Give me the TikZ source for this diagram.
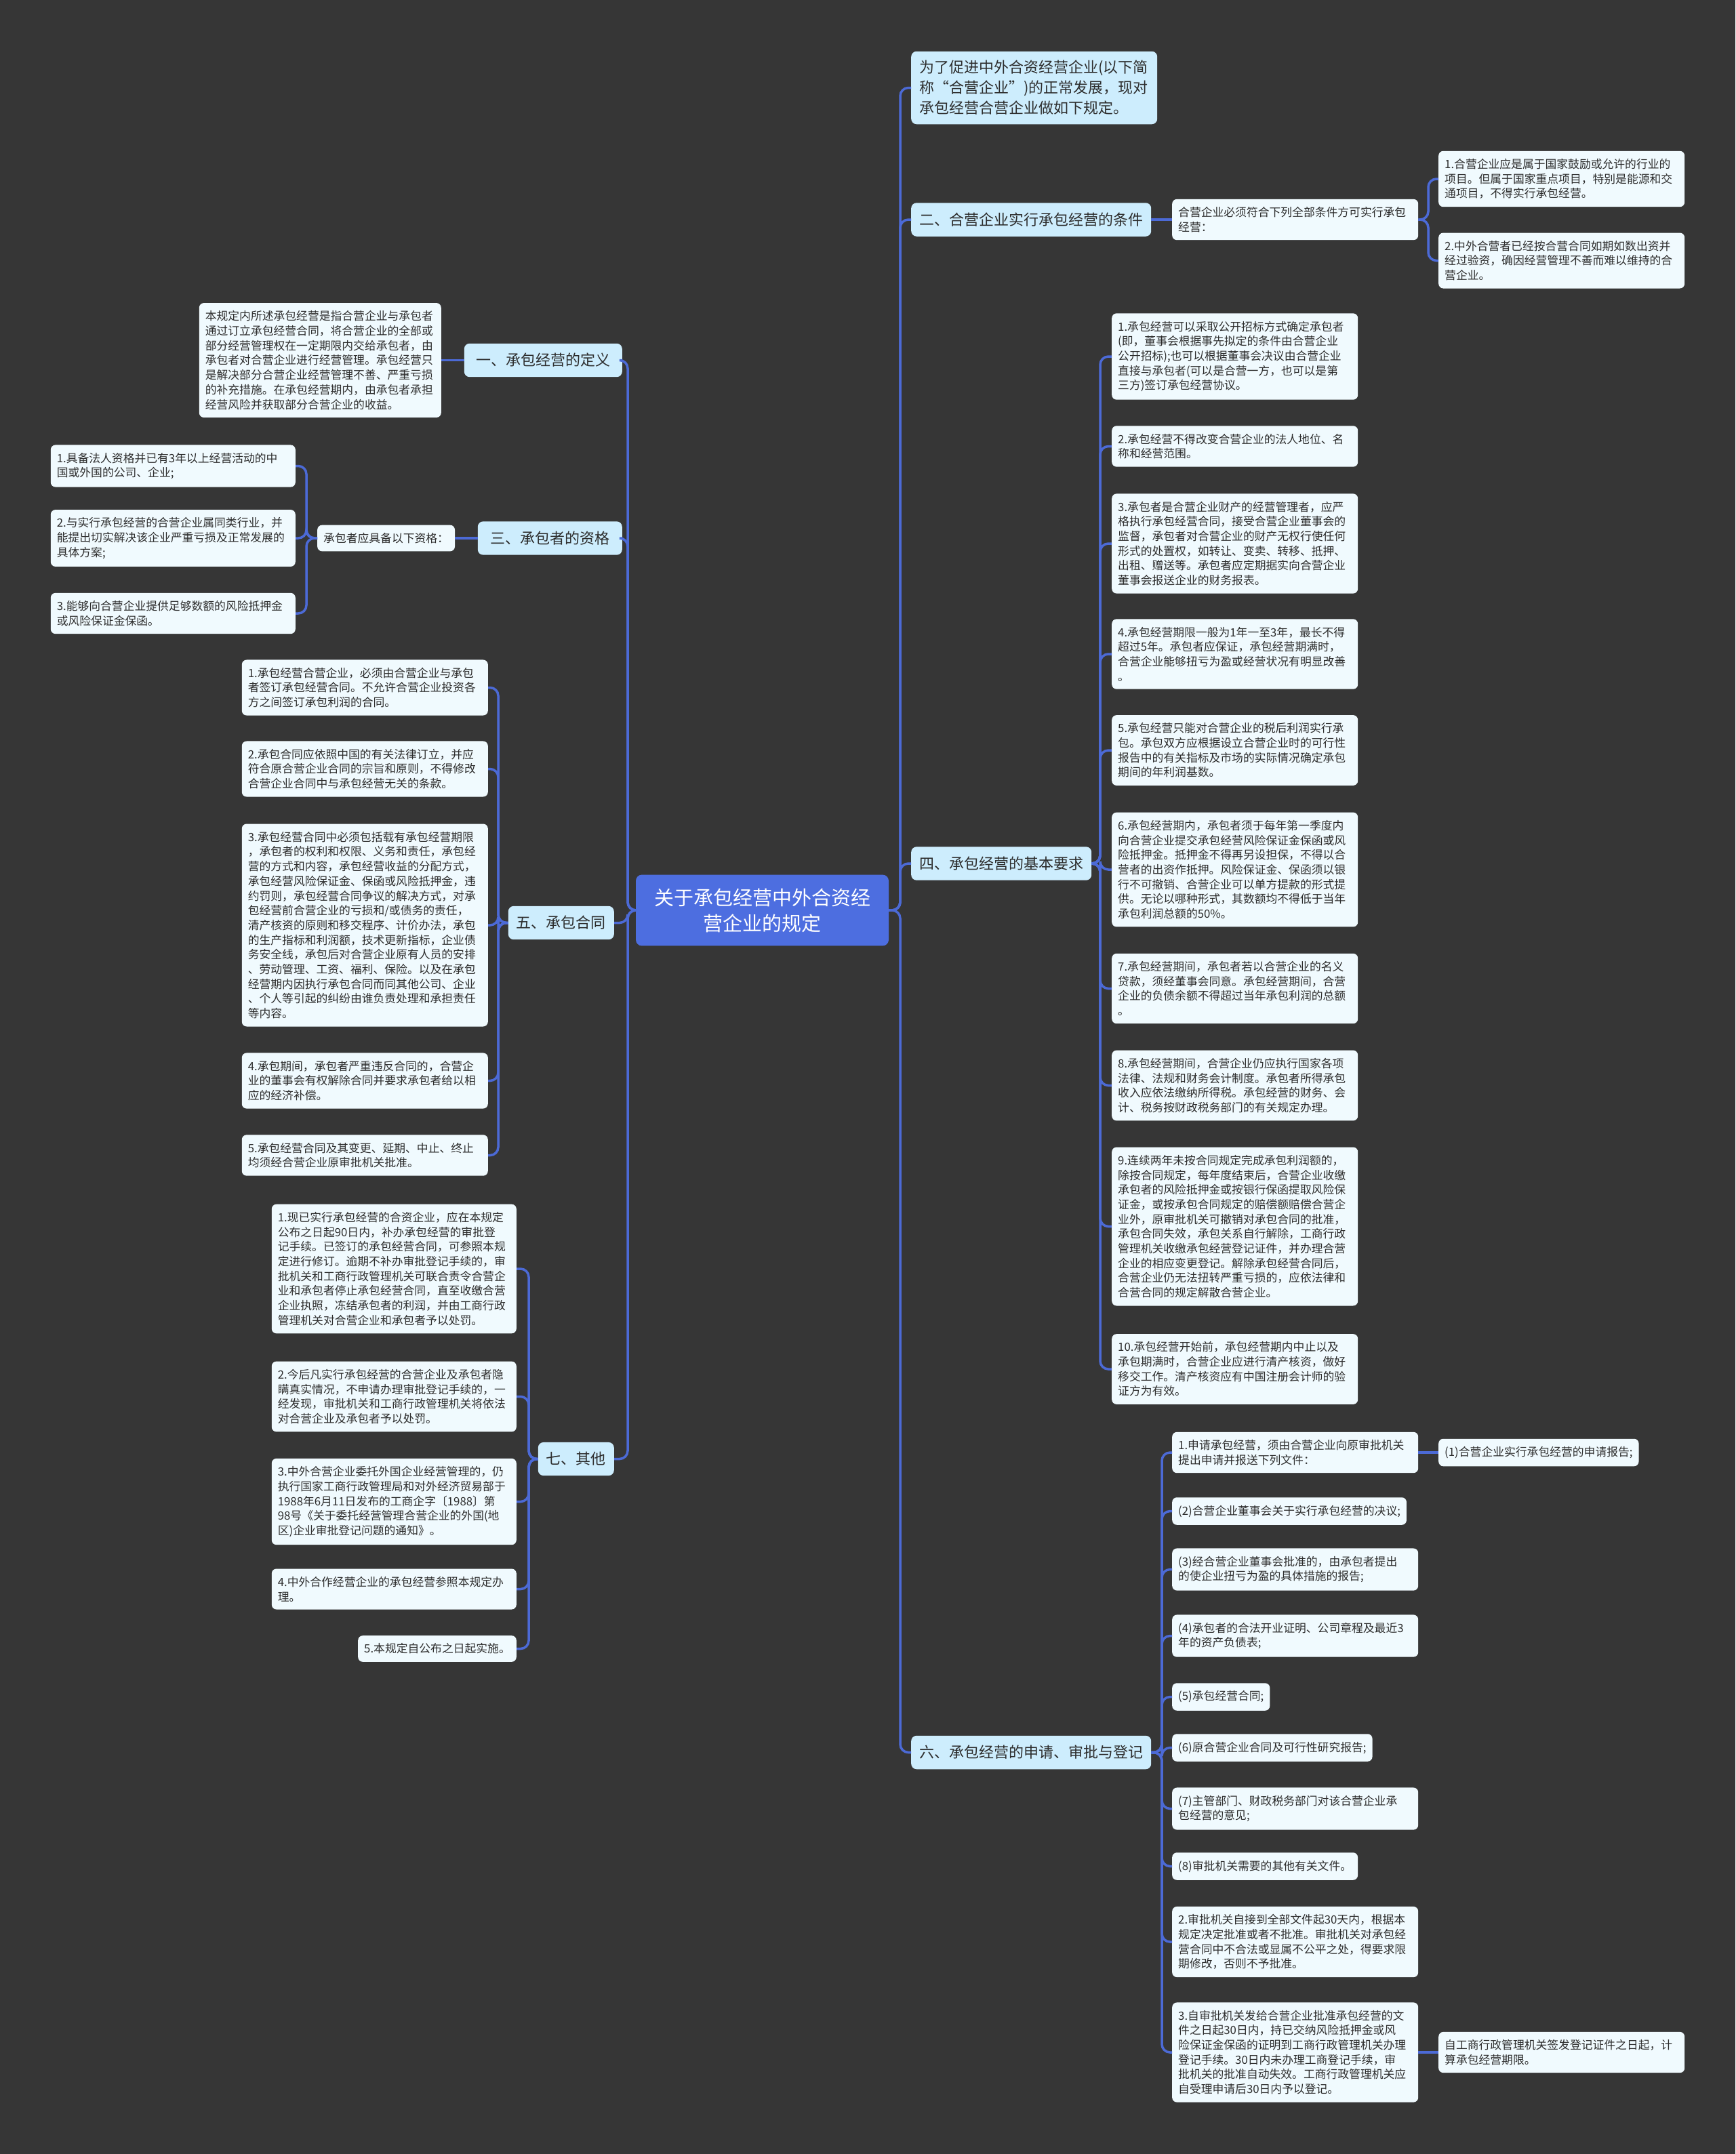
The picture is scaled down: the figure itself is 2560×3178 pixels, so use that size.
\documentclass[tikz,border=0pt]{standalone}
\usepackage{fontspec}
\setmainfont{Noto Sans CJK SC}
\definecolor{bgc}{RGB}{54,54,54}
\definecolor{linec}{RGB}{76,106,214}
\definecolor{lvc}{RGB}{205,237,253}
\definecolor{leafc}{RGB}{240,250,254}
\definecolor{rootc}{RGB}{77,110,224}
\definecolor{txtc}{RGB}{45,45,45}
\tikzset{
  leafbox/.style={fill=leafc, text=txtc, rounded corners=7pt, font=\fontsize{16.8}{21.7}\selectfont, align=left, inner xsep=9pt, inner ysep=11.5pt},
  leafw/.style={leafbox, text width=#1},
  lvone/.style={fill=lvc, text=txtc, rounded corners=8pt, font=\fontsize{22}{30}\selectfont, align=left, inner xsep=12pt, inner ysep=14.5pt},
  rootbox/.style={fill=rootc, text=white, rounded corners=9pt, font=\fontsize{29}{38}\selectfont, align=center, text width=337pt, inner xsep=18pt, inner ysep=20pt},
  conn/.style={draw=linec, line width=3.5pt, rounded corners=12pt},
}
\begin{document}
\begin{tikzpicture}[x=1pt,y=-1pt]
\fill[bgc] (0,0) rectangle (2560,3178);
\useasboundingbox (0,0) rectangle (2560,3178);

% root
\node[rootbox] (root) at (1124.5,1343) {关于承包经营中外合资经\\营企业的规定};

% ---------------- right side ----------------
\node[lvone, text width=339pt, anchor=west, inner ysep=13.5pt] (intro) at (1344,129.5) {为了促进中外合资经营企业(以下简\\称“合营企业”)的正常发展，现对\\承包经营合营企业做如下规定。};

\node[lvone, anchor=west] (s2) at (1344,324) {二、合营企业实行承包经营的条件};
\node[leafw=345pt, anchor=west] (s2c) at (1729,324) {合营企业必须符合下列全部条件方可实行承包\\经营：};
\node[leafw=345pt, anchor=west] (s2a) at (2122,264) {1.合营企业应是属于国家鼓励或允许的行业的\\项目。但属于国家重点项目，特别是能源和交\\通项目，不得实行承包经营。};
\node[leafw=345pt, anchor=west] (s2b) at (2122,384.5) {2.中外合营者已经按合营合同如期如数出资并\\经过验资，确因经营管理不善而难以维持的合\\营企业。};

\node[lvone, anchor=west] (s4) at (1344,1274) {四、承包经营的基本要求};
\node[leafw=345pt, anchor=west] (s4a) at (1640,526) {1.承包经营可以采取公开招标方式确定承包者\\(即，董事会根据事先拟定的条件由合营企业\\公开招标);也可以根据董事会决议由合营企业\\直接与承包者(可以是合营一方，也可以是第\\三方)签订承包经营协议。};
\node[leafw=345pt, anchor=west] (s4b) at (1640,658.5) {2.承包经营不得改变合营企业的法人地位、名\\称和经营范围。};
\node[leafw=345pt, anchor=west] (s4c) at (1640,802) {3.承包者是合营企业财产的经营管理者，应严\\格执行承包经营合同，接受合营企业董事会的\\监督，承包者对合营企业的财产无权行使任何\\形式的处置权，如转让、变卖、转移、抵押、\\出租、赠送等。承包者应定期据实向合营企业\\董事会报送企业的财务报表。};
\node[leafw=345pt, anchor=west] (s4d) at (1640,965) {4.承包经营期限一般为1年一至3年，最长不得\\超过5年。承包者应保证，承包经营期满时，\\合营企业能够扭亏为盈或经营状况有明显改善\\。};
\node[leafw=345pt, anchor=west] (s4e) at (1640,1107) {5.承包经营只能对合营企业的税后利润实行承\\包。承包双方应根据设立合营企业时的可行性\\报告中的有关指标及市场的实际情况确定承包\\期间的年利润基数。};
\node[leafw=345pt, anchor=west] (s4f) at (1640,1283) {6.承包经营期内，承包者须于每年第一季度内\\向合营企业提交承包经营风险保证金保函或风\\险抵押金。抵押金不得再另设担保，不得以合\\营者的出资作抵押。风险保证金、保函须以银\\行不可撤销、合营企业可以单方提款的形式提\\供。无论以哪种形式，其数额均不得低于当年\\承包利润总额的50\%。};
\node[leafw=345pt, anchor=west] (s4g) at (1640,1458.5) {7.承包经营期间，承包者若以合营企业的名义\\贷款，须经董事会同意。承包经营期间，合营\\企业的负债余额不得超过当年承包利润的总额\\。};
\node[leafw=345pt, anchor=west] (s4h) at (1640,1601.5) {8.承包经营期间，合营企业仍应执行国家各项\\法律、法规和财务会计制度。承包者所得承包\\收入应依法缴纳所得税。承包经营的财务、会\\计、税务按财政税务部门的有关规定办理。};
\node[leafw=345pt, anchor=west] (s4i) at (1640,1809.5) {9.连续两年未按合同规定完成承包利润额的，\\除按合同规定，每年度结束后，合营企业收缴\\承包者的风险抵押金或按银行保函提取风险保\\证金，或按承包合同规定的赔偿额赔偿合营企\\业外，原审批机关可撤销对承包合同的批准，\\承包合同失效，承包关系自行解除，工商行政\\管理机关收缴承包经营登记证件，并办理合营\\企业的相应变更登记。解除承包经营合同后，\\合营企业仍无法扭转严重亏损的，应依法律和\\合营合同的规定解散合营企业。};
\node[leafw=345pt, anchor=west] (s4j) at (1640,2020) {10.承包经营开始前，承包经营期内中止以及\\承包期满时，合营企业应进行清产核资，做好\\移交工作。清产核资应有中国注册会计师的验\\证方为有效。};

\node[lvone, anchor=west] (s6) at (1344,2585.5) {六、承包经营的申请、审批与登记};
\node[leafw=345pt, anchor=west] (s6a) at (1729,2143) {1.申请承包经营，须由合营企业向原审批机关\\提出申请并报送下列文件：};
\node[leafbox, anchor=west] (s6a1) at (2122,2143) {(1)合营企业实行承包经营的申请报告;};
\node[leafbox, anchor=west] (s6p2) at (1729,2229.5) {(2)合营企业董事会关于实行承包经营的决议;};
\node[leafw=345pt, anchor=west] (s6p3) at (1729,2315.5) {(3)经合营企业董事会批准的，由承包者提出\\的使企业扭亏为盈的具体措施的报告;};
\node[leafw=345pt, anchor=west] (s6p4) at (1729,2413.5) {(4)承包者的合法开业证明、公司章程及最近3\\年的资产负债表;};
\node[leafbox, anchor=west] (s6p5) at (1729,2503.5) {(5)承包经营合同;};
\node[leafbox, anchor=west] (s6p6) at (1729,2578.5) {(6)原合营企业合同及可行性研究报告;};
\node[leafw=345pt, anchor=west] (s6p7) at (1729,2668.5) {(7)主管部门、财政税务部门对该合营企业承\\包经营的意见;};
\node[leafbox, anchor=west] (s6p8) at (1729,2753.5) {(8)审批机关需要的其他有关文件。};
\node[leafw=345pt, anchor=west] (s6b) at (1729,2865) {2.审批机关自接到全部文件起30天内，根据本\\规定决定批准或者不批准。审批机关对承包经\\营合同中不合法或显属不公平之处，得要求限\\期修改，否则不予批准。};
\node[leafw=345pt, anchor=west] (s6c) at (1729,3028) {3.自审批机关发给合营企业批准承包经营的文\\件之日起30日内，持已交纳风险抵押金或风\\险保证金保函的证明到工商行政管理机关办理\\登记手续。30日内未办理工商登记手续，审\\批机关的批准自动失效。工商行政管理机关应\\自受理申请后30日内予以登记。};
\node[leafw=345pt, anchor=west] (s6c1) at (2122,3028) {自工商行政管理机关签发登记证件之日起，计\\算承包经营期限。};

% ---------------- left side ----------------
\node[lvone, anchor=east, minimum width=233pt] (s1) at (918,531.5) {一、承包经营的定义};
\node[leafw=339pt, anchor=east] (s1c) at (651,531.5) {本规定内所述承包经营是指合营企业与承包者\\通过订立承包经营合同，将合营企业的全部或\\部分经营管理权在一定期限内交给承包者，由\\承包者对合营企业进行经营管理。承包经营只\\是解决部分合营企业经营管理不善、严重亏损\\的补充措施。在承包经营期内，由承包者承担\\经营风险并获取部分合营企业的收益。};

\node[lvone, anchor=east, minimum width=213pt] (s3) at (918,794) {三、承包者的资格};
\node[leafbox, anchor=west] (s3c) at (468,794) {承包者应具备以下资格：};
\node[leafw=343pt, anchor=east] (s3a) at (436,687.5) {1.具备法人资格并已有3年以上经营活动的中\\国或外国的公司、企业;};
\node[leafw=343pt, anchor=east] (s3b) at (436,794) {2.与实行承包经营的合营企业属同类行业，并\\能提出切实解决该企业严重亏损及正常发展的\\具体方案;};
\node[leafw=343pt, anchor=east] (s3d) at (436,905) {3.能够向合营企业提供足够数额的风险抵押金\\或风险保证金保函。};

\node[lvone, anchor=east] (s5) at (906,1361.5) {五、承包合同};
\node[leafw=345pt, anchor=east] (s5a) at (720,1014.5) {1.承包经营合营企业，必须由合营企业与承包\\者签订承包经营合同。不允许合营企业投资各\\方之间签订承包利润的合同。};
\node[leafw=345pt, anchor=east] (s5b) at (720,1134.5) {2.承包合同应依照中国的有关法律订立，并应\\符合原合营企业合同的宗旨和原则，不得修改\\合营企业合同中与承包经营无关的条款。};
\node[leafw=345pt, anchor=east] (s5c) at (720,1365) {3.承包经营合同中必须包括载有承包经营期限\\，承包者的权利和权限、义务和责任，承包经\\营的方式和内容，承包经营收益的分配方式，\\承包经营风险保证金、保函或风险抵押金，违\\约罚则，承包经营合同争议的解决方式，对承\\包经营前合营企业的亏损和/或债务的责任，\\清产核资的原则和移交程序、计价办法，承包\\的生产指标和利润额，技术更新指标，企业债\\务安全线，承包后对合营企业原有人员的安排\\、劳动管理、工资、福利、保险。以及在承包\\经营期内因执行承包合同而同其他公司、企业\\、个人等引起的纠纷由谁负责处理和承担责任\\等内容。};
\node[leafw=345pt, anchor=east] (s5d) at (720,1594.5) {4.承包期间，承包者严重违反合同的，合营企\\业的董事会有权解除合同并要求承包者给以相\\应的经济补偿。};
\node[leafw=345pt, anchor=east] (s5e) at (720,1704.5) {5.承包经营合同及其变更、延期、中止、终止\\均须经合营企业原审批机关批准。};

\node[lvone, anchor=east] (s7) at (906,2152.5) {七、其他};
\node[leafw=343pt, anchor=east] (s7a) at (762,1872) {1.现已实行承包经营的合资企业，应在本规定\\公布之日起90日内，补办承包经营的审批登\\记手续。已签订的承包经营合同，可参照本规\\定进行修订。逾期不补办审批登记手续的，审\\批机关和工商行政管理机关可联合责令合营企\\业和承包者停止承包经营合同，直至收缴合营\\企业执照，冻结承包者的利润，并由工商行政\\管理机关对合营企业和承包者予以处罚。};
\node[leafw=343pt, anchor=east] (s7b) at (762,2060.5) {2.今后凡实行承包经营的合营企业及承包者隐\\瞒真实情况，不申请办理审批登记手续的，一\\经发现，审批机关和工商行政管理机关将依法\\对合营企业及承包者予以处罚。};
\node[leafw=343pt, anchor=east] (s7c) at (762,2215.5) {3.中外合营企业委托外国企业经营管理的，仍\\执行国家工商行政管理局和对外经济贸易部于\\1988年6月11日发布的工商企字〔1988〕第\\98号《关于委托经营管理合营企业的外国(地\\区)企业审批登记问题的通知》。};
\node[leafw=343pt, anchor=east] (s7d) at (762,2344.5) {4.中外合作经营企业的承包经营参照本规定办\\理。};
\node[leafbox, anchor=east] (s7e) at (762,2432.5) {5.本规定自公布之日起实施。};

% ---------------- connectors ----------------
\coordinate (rt) at (1328,1343);
\coordinate (lt) at (926,1343);
\foreach \n in {intro,s2,s4,s6} {\draw[conn] (root.east) -- (rt) |- (\n.west);}
\foreach \n in {s1,s3,s5,s7} {\draw[conn] (root.west) -- (lt) |- (\n.east);}

\draw[conn] (s2.east) -- (s2c.west);
\coordinate (t2) at (2107,324);
\foreach \n in {s2a,s2b} {\draw[conn] (s2c.east) -- (t2) |- (\n.west);}

\coordinate (t4) at (1623,1274);
\foreach \n in {s4a,s4b,s4c,s4d,s4e,s4f,s4g,s4h,s4i,s4j} {\draw[conn] (s4.east) -- (t4) |- (\n.west);}

\coordinate (t6) at (1714,2585.5);
\foreach \n in {s6a,s6p2,s6p3,s6p4,s6p5,s6p6,s6p7,s6p8,s6b,s6c} {\draw[conn] (s6.east) -- (t6) |- (\n.west);}
\draw[conn] (s6a.east) -- (s6a1.west);
\draw[conn] (s6c.east) -- (s6c1.west);

\draw[conn] (s1.west) -- (s1c.east);
\draw[conn] (s3.west) -- (s3c.east);
\coordinate (t3) at (452,794);
\foreach \n in {s3a,s3b,s3d} {\draw[conn] (s3c.west) -- (t3) |- (\n.east);}

\coordinate (t5) at (735,1361.5);
\foreach \n in {s5a,s5b,s5c,s5d,s5e} {\draw[conn] (s5.west) -- (t5) |- (\n.east);}

\coordinate (t7) at (780,2152.5);
\foreach \n in {s7a,s7b,s7c,s7d,s7e} {\draw[conn] (s7.west) -- (t7) |- (\n.east);}
\end{tikzpicture}
\end{document}
